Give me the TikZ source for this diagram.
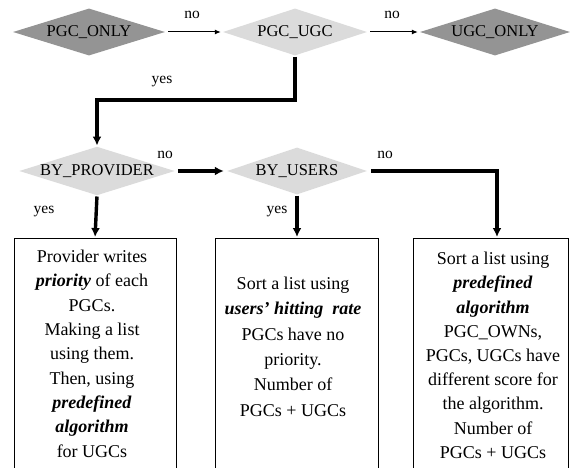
\documentclass[tikz,border=0pt]{standalone}
\usepackage{fontspec}
\setmainfont{Liberation Serif}
\usetikzlibrary{shapes.geometric,arrows.meta}
\begin{document}
\begin{tikzpicture}[x=1pt,y=-1pt,
  decision/.style={diamond, draw=none, inner sep=0pt, aspect=3.2,
    minimum width=#1, minimum height=47pt,
    font=\fontsize{16.5}{18}\selectfont},
  darkdec/.style={fill=black!42},
  lightdec/.style={fill=black!14},
  resultbox/.style={draw, line width=0.9pt, minimum width=#1,
    minimum height=250pt, anchor=north, inner sep=0pt},
  boxtext/.style={anchor=north, align=center, inner sep=0pt},
  flowlabel/.style={font=\fontsize{15.5}{17}\selectfont, inner sep=0pt},
  thinarrow/.style={line width=1pt, -{Latex[length=6pt,width=5pt]},
    shorten <=3pt, shorten >=2pt},
  thickarrow/.style={line width=3.4pt, -{Latex[length=9pt,width=9pt]},
    shorten >=1pt}
]
\useasboundingbox (0,0) rectangle (578,468);
\clip (0,0) rectangle (578,468);

% first row of decisions
\node[decision=152pt, darkdec]  (d1) at (89,32)  {PGC\_ONLY};
\node[decision=144pt, lightdec] (d2) at (295,32) {PGC\_UGC};
\node[decision=150pt, darkdec]  (d3) at (495,32) {UGC\_ONLY};

% second row of decisions
\node[decision=142pt, lightdec] (d4) at (97,171)  {BY\_PROVIDER};
\node[decision=140pt, lightdec] (d5) at (297,171) {BY\_USERS};

% result boxes (open at the bottom edge)
\node[resultbox=162pt] (b1) at (95,238) {};
\node[resultbox=163pt] (b2) at (296.5,238) {};
\node[resultbox=155pt] (b3) at (490.5,238) {};

\node[boxtext, font=\fontsize{18}{24.3}\selectfont] (t1) at (92,250)
  {Provider writes\\ \textbf{\textit{priority}} of each\\ PGCs.\\ Making a list\\
   using them.\\ Then, using\\ \textbf{\textit{predefined}}\\
   \textbf{\textit{algorithm}}\\ for UGCs};
\node[boxtext, font=\fontsize{18}{25.3}\selectfont] (t2) at (293,277)
  {Sort a list using\\ \textbf{\textit{users’ hitting\ \ rate}}\\ PGCs have no\\
   priority.\\ Number of\\ PGCs + UGCs};
\node[boxtext, font=\fontsize{18}{24.2}\selectfont] (t3) at (493,252)
  {Sort a list using\\ \textbf{\textit{predefined}}\\ \textbf{\textit{algorithm}}\\
   PGC\_OWNs,\\ PGCs, UGCs have\\ different score for\\ the algorithm.\\
   Number of\\ PGCs + UGCs};

% connectors
\coordinate (j1) at (97,100);
\coordinate (j2) at (497,171);

\draw[thinarrow] (d1.east) -- (d2.west);
\draw[thinarrow] (d2.east) -- (d3.west);
\draw[thickarrow, shorten <=1pt] (d2.south) |- (j1) -- (d4.north);
\draw[thickarrow, shorten <=3pt, shorten >=3pt] (d4.east) -- (d5.west);
\draw[thickarrow, shorten <=1pt] (d4.south) -- (b1.north);
\draw[thickarrow, shorten <=1pt] (d5.south) -- (d5.south |- b2.north);
\draw[thickarrow, shorten <=4pt] (d5.east) -- (j2) -- (j2 |- b3.north);

% branch labels
\node[flowlabel] (l1) at (192,15)  {no};
\node[flowlabel] (l2) at (392,15)  {no};
\node[flowlabel] (l3) at (162,82)  {yes};
\node[flowlabel] (l4) at (165,155) {no};
\node[flowlabel] (l5) at (385,155) {no};
\node[flowlabel] (l6) at (44,212)  {yes};
\node[flowlabel] (l7) at (277,212) {yes};
\end{tikzpicture}
\end{document}
